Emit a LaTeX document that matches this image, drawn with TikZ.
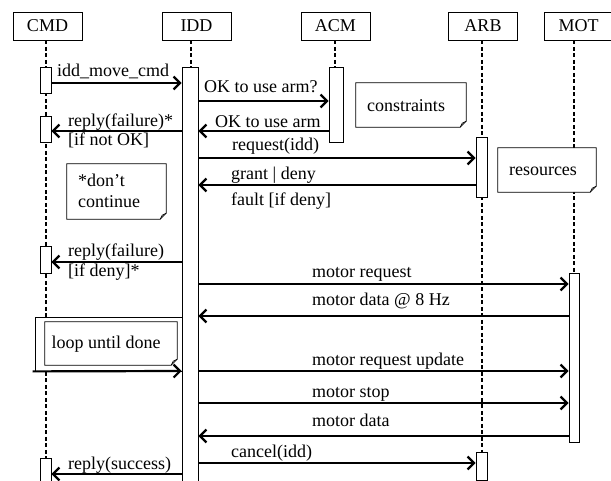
\documentclass[tikz,border=0pt]{standalone}
\usepackage{fontspec}
\setmainfont{Liberation Serif}
\usetikzlibrary{arrows.meta}
\begin{document}
\begin{tikzpicture}[x=1pt,y=-1pt,
  font=\fontsize{18}{21}\selectfont,
  head/.style={draw, line width=0.8pt, fill=white, minimum width=69pt, minimum height=28pt, inner sep=0pt},
  act/.style={draw, line width=0.8pt, fill=white, inner sep=0pt, anchor=north},
  life/.style={line width=2pt, dash pattern=on 4pt off 2.5pt},
  msg/.style={line width=2.2pt, -{Straight Barb[length=6.5pt,width=13pt,line width=2.2pt]}},
  lbl/.style={anchor=base west, inner sep=0pt},
  notebox/.style={inner sep=0pt},
  noteline/.style={draw, line width=0.8pt, fill=white},
  frame/.style={draw, line width=0.8pt, fill=white, inner sep=0pt}
]
\useasboundingbox (0,0) rectangle (611,481);

% headers
\node[head] (cmd) at (47.5,26) {CMD};
\node[head] (idd) at (196.5,26) {IDD};
\node[head] (acm) at (335.5,26) {ACM};
\node[head] (arb) at (483,26) {ARB};
\node[head] (mot) at (578.5,26) {MOT};

% lifeline ends
\coordinate (cmdEnd) at (45.5,481);
\coordinate (iddTop) at (191,67);
\coordinate (acmTop) at (335,67);
\coordinate (arbEnd) at (482,452);
\coordinate (motEnd) at (574,273);

\draw[life] (cmd.south -| cmdEnd) -- (cmdEnd);
\draw[life] (idd.south -| iddTop) -- (iddTop);
\draw[life] (acm.south -| acmTop) -- (acmTop);
\draw[life] (arb.south -| arbEnd) -- (arbEnd);
\draw[life] (mot.south -| motEnd) -- (motEnd);

% loop frame (behind IDD activation)
\node[frame, minimum width=147pt, minimum height=54pt] (loopframe) at (108.5,344) {};

% activations
\node[act, minimum width=11pt, minimum height=26pt] (c1) at (45.5,67) {};
\node[act, minimum width=11pt, minimum height=26pt] (c2) at (45.5,116) {};
\node[act, minimum width=11pt, minimum height=27pt] (c3) at (45.5,246) {};
\node[act, minimum width=11pt, minimum height=30pt] (c4) at (45.5,458) {};
\node[act, minimum width=16pt, minimum height=430pt] (ia) at (190,67) {};
\node[act, minimum width=14pt, minimum height=75pt] (aa) at (336,67) {};
\node[act, minimum width=11pt, minimum height=60pt] (r1) at (481.5,137) {};
\node[act, minimum width=11pt, minimum height=28pt] (r2) at (481.5,452) {};
\node[act, minimum width=10pt, minimum height=169pt] (ma) at (574,273) {};

% notes
\node[notebox, minimum width=110pt, minimum height=44pt] (nc) at (411,105) {};
\draw[noteline] (nc.north west) -- (nc.north east) -- ([yshift=6pt]nc.south east) -- ([xshift=-6pt]nc.south east) -- (nc.south west) -- cycle;
\draw[line width=0.6pt] ([xshift=-6pt]nc.south east) -- ([xshift=-4pt,yshift=4pt]nc.south east) -- ([yshift=6pt]nc.south east);
\node at (406,106) {constraints};

\node[notebox, minimum width=98pt, minimum height=44pt] (nr) at (547,170) {};
\draw[noteline] (nr.north west) -- (nr.north east) -- ([yshift=6pt]nr.south east) -- ([xshift=-6pt]nr.south east) -- (nr.south west) -- cycle;
\draw[line width=0.6pt] ([xshift=-6pt]nr.south east) -- ([xshift=-4pt,yshift=4pt]nr.south east) -- ([yshift=6pt]nr.south east);
\node at (543,171) {resources};

\node[notebox, minimum width=99pt, minimum height=55pt] (nd) at (116.5,191.5) {};
\draw[noteline] (nd.north west) -- (nd.north east) -- ([yshift=6pt]nd.south east) -- ([xshift=-6pt]nd.south east) -- (nd.south west) -- cycle;
\draw[line width=0.6pt] ([xshift=-6pt]nd.south east) -- ([xshift=-4pt,yshift=4pt]nd.south east) -- ([yshift=6pt]nd.south east);
\node[anchor=west, align=left, inner sep=0pt] at (78,191) {*don’t\\continue};

\node[notebox, minimum width=132pt, minimum height=43pt] (nl) at (111,343.5) {};
\draw[noteline] (nl.north west) -- (nl.north east) -- ([yshift=6pt]nl.south east) -- ([xshift=-6pt]nl.south east) -- (nl.south west) -- cycle;
\draw[line width=0.6pt] ([xshift=-6pt]nl.south east) -- ([xshift=-4pt,yshift=4pt]nl.south east) -- ([yshift=6pt]nl.south east);
\node at (106,344) {loop until done};

% message rows
\coordinate (y1) at (0,83);
\coordinate (y2) at (0,101);
\coordinate (y3) at (0,131);
\coordinate (y4) at (0,158);
\coordinate (y5) at (0,185);
\coordinate (y6) at (0,262);
\coordinate (y7) at (0,284);
\coordinate (y8) at (0,316);
\coordinate (y9) at (0,371);
\coordinate (y10) at (0,403);
\coordinate (y11) at (0,436);
\coordinate (y12) at (0,463);
\coordinate (y13) at (0,474);

\draw[msg] (c1.east |- y1) -- (ia.west |- y1);
\draw[msg] (ia.east |- y2) -- (aa.west |- y2);
\draw[msg] (aa.west |- y3) -- (ia.east |- y3);
\draw[msg] (ia.west |- y3) -- (c2.east |- y3);
\draw[msg] (ia.east |- y4) -- (r1.west |- y4);
\draw[msg] (r1.west |- y5) -- (ia.east |- y5);
\draw[msg] (ia.west |- y6) -- (c3.east |- y6);
\draw[msg] (ia.east |- y7) -- (ma.west |- y7);
\draw[msg] (ma.west |- y8) -- (ia.east |- y8);
\draw[msg] ([xshift=-2pt]loopframe.south west) -- (ia.west |- y9);
\draw[msg] (ia.east |- y9) -- (ma.west |- y9);
\draw[msg] (ia.east |- y10) -- (ma.west |- y10);
\draw[msg] (ma.west |- y11) -- (ia.east |- y11);
\draw[msg] (ia.east |- y12) -- (r2.west |- y12);
\draw[msg] (ia.west |- y13) -- (c4.east |- y13);

% labels
\node[lbl] at (57,77) {idd\_move\_cmd};
\node[lbl] at (204,93) {OK to use arm?};
\node[lbl] at (215,128) {OK to use arm};
\node[lbl] at (68,127) {reply(failure)*};
\node[lbl] at (68,146) {[if not OK]};
\node[lbl] at (232,151) {request(idd)};
\node[lbl] at (231,180) {grant | deny};
\node[lbl] at (231,206) {fault [if deny]};
\node[lbl] at (68,257) {reply(failure)};
\node[lbl] at (68,277) {[if deny]*};
\node[lbl] at (312,278) {motor request};
\node[lbl] at (312,306) {motor data @ 8 Hz};
\node[lbl] at (312,365) {motor request update};
\node[lbl] at (312,397) {motor stop};
\node[lbl] at (312,426) {motor data};
\node[lbl] at (231,457) {cancel(idd)};
\node[lbl] at (68,469) {reply(success)};
\end{tikzpicture}
\end{document}
